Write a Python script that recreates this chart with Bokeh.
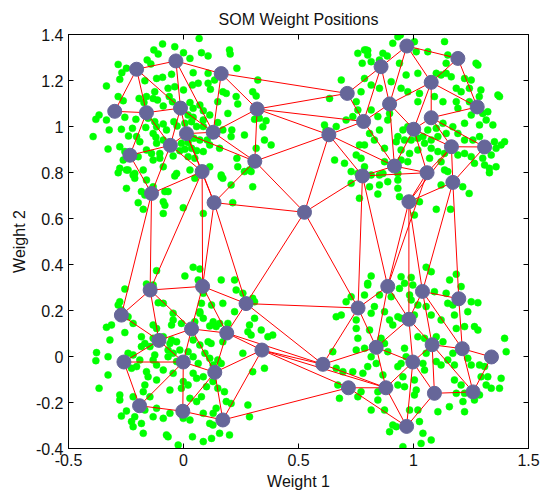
from bokeh.plotting import figure
from bokeh.models import LinearAxis, FixedTicker, CustomJSTickFormatter, ColumnDataSource
from bokeh.embed import file_html
from bokeh.resources import INLINE
import math

# SOM neuron weights, 8x8 hexagonal grid, listed row by row (Weight 1, Weight 2)
w_rows = [
    [(-0.299, 1.066), (-0.204, 1.249), (-0.033, 1.285), (0.164, 1.230), (0.712, 1.144), (0.859, 1.260), (0.971, 1.350), (1.193, 1.296)],
    [(-0.161, 1.060), (-0.013, 1.080), (0.129, 0.975), (0.320, 1.076), (0.783, 1.022), (0.896, 1.098), (1.077, 1.192), (1.277, 1.085)],
    [(-0.233, 0.875), (-0.057, 0.918), (0.013, 0.969), (0.310, 0.849), (0.632, 0.964), (0.917, 0.828), (1.001, 0.988), (1.077, 1.038)],
    [(-0.139, 0.709), (0.081, 0.804), (0.133, 0.669), (0.526, 0.627), (0.778, 0.785), (1.059, 0.799), (1.165, 0.912), (1.309, 0.911)],
    [(-0.270, 0.180), (-0.145, 0.289), (0.083, 0.305), (0.272, 0.230), (0.759, 0.211), (0.888, 0.305), (0.980, 0.673), (1.171, 0.757)],
    [(-0.107, 0.070), (0.035, 0.120), (0.188, 0.102), (0.606, -0.034), (0.838, 0.040), (0.980, 0.162), (1.039, 0.283), (1.197, 0.251)],
    [(-0.259, -0.024), (-0.001, -0.024), (0.136, -0.069), (0.341, 0.028), (0.880, -0.136), (0.997, -0.024), (1.081, 0.051), (1.212, 0.034)],
    [(-0.191, -0.214), (-0.003, -0.238), (0.171, -0.276), (0.717, -0.136), (0.970, -0.304), (1.091, -0.160), (1.259, -0.154), (1.339, -0.002)],
]

# input vectors, grouped by region
pts_top_left = [
    (0.068,1.383),(-0.091,1.359),(-0.129,1.333),(-0.110,1.315),(-0.038,1.347),(0.000,1.321),(0.028,1.296),(0.078,1.321),(0.107,1.307),
    (-0.158,1.289),(-0.142,1.272),(-0.284,1.270),(-0.248,1.253),(-0.268,1.234),(-0.277,1.205),(-0.335,1.176),(-0.168,1.199),(-0.117,1.209),
    (-0.091,1.214),(-0.052,1.227),(-0.067,1.166),(-0.038,1.173),(0.000,1.159),(0.042,1.234),(0.107,1.231),(0.039,1.180),(0.064,1.188),
    (0.107,1.188),(0.117,1.162),(-0.125,1.151),(-0.132,1.122),(-0.113,1.115),(-0.161,1.130),(-0.284,1.130),(-0.262,1.112),(-0.193,1.122),
    (-0.172,1.104),(-0.062,1.130),(-0.048,1.108),(-0.088,1.089),(0.028,1.104),(0.042,1.079),(0.071,1.093),(0.086,1.069),(0.114,1.050),
    (0.020,1.050),(0.042,1.040),(0.086,1.028),(-0.367,1.050),(-0.381,1.031),(-0.393,0.956),(-0.335,1.028),(-0.323,0.985),(-0.270,0.988),
    (-0.255,1.040),(-0.207,1.031),(-0.222,0.992),(-0.154,1.036),(-0.125,1.021),(-0.164,0.996),(-0.117,0.999),(-0.088,1.011),(-0.074,0.985),
    (-0.042,1.021),(-0.028,1.002),(0.006,1.014),(0.035,1.021),(0.057,1.000),(0.086,1.000),(-0.132,0.970),(-0.120,0.953),(-0.204,0.956),
    (-0.239,0.959),(-0.190,0.934),(-0.117,0.927),(-0.088,0.941),(-0.009,0.927),(0.020,0.930),(0.045,0.949),(0.071,0.941),(0.103,0.941),
    (0.114,0.920),(-0.328,0.902),(-0.277,0.912),(-0.255,0.891),(-0.161,0.898),(-0.139,0.883),(-0.103,0.883),(-0.016,0.895),(0.006,0.901),
    (0.035,0.905),(0.057,0.895),(0.086,0.891),(-0.262,0.854),(-0.197,0.869),(-0.132,0.854),(-0.103,0.862),(-0.045,0.872),(0.020,0.869),
    (0.049,0.862),(-0.277,0.818),(-0.248,0.811),(-0.212,0.796),(-0.175,0.811),(-0.088,0.825),(-0.030,0.796),(0.028,0.811),(0.114,0.825),
    (0.200,1.333),(0.203,1.315),(0.232,1.253),(0.323,1.202),(0.135,1.202),(0.171,1.151),(0.186,1.144),(0.149,1.108),(0.229,1.130),
    (0.236,1.098),(0.301,1.151),(0.316,1.133),(0.193,1.057),(0.149,1.017),(0.171,0.985),(0.210,0.985),(0.207,0.956),(0.265,0.963),
    (0.309,1.031),(0.330,1.036),(0.359,1.025),(0.345,0.999),(0.352,0.941),(0.381,0.920),(0.316,0.905),(0.157,0.905),(0.232,0.862),
    (0.236,0.825),(0.287,0.811),(0.164,0.789),
    (-0.284,0.799),(-0.241,0.811),(-0.219,0.789),(-0.212,0.775),(-0.161,0.767),(-0.248,0.731),(-0.183,0.717),(-0.168,0.702),(-0.132,0.738),
    (-0.081,0.717),(-0.067,0.717),(-0.088,0.673),(-0.081,0.658),(-0.088,0.622),(-0.197,0.669),(-0.175,0.640),(-0.038,0.785),(-0.001,0.647),
    (0.049,0.775),(0.086,0.622),(0.164,0.782),(0.171,0.775),(0.207,0.746),(0.301,0.738),(0.265,0.804),(0.294,0.804),(0.214,0.669),
]

pts_top_right = [
    (0.758,1.318),(0.794,1.333),(0.801,1.311),(0.777,1.275),(0.686,1.202),(0.772,1.151),(0.751,1.108),(0.758,1.072),(0.736,1.043),
    (0.707,1.028),(0.613,1.007),(0.620,0.985),(0.664,1.000),(0.635,1.122),(0.765,0.920),(0.751,0.876),(0.772,0.862),(0.787,0.825),
    (0.657,0.854),(0.700,0.840),(0.729,0.804),
    (0.932,1.390),(0.943,1.398),(0.910,1.362),(0.787,1.333),(0.801,1.330),(0.867,1.318),(0.886,1.307),(0.816,1.282),(0.852,1.289),
    (1.004,1.369),(1.012,1.325),(1.062,1.325),(1.135,1.369),(1.142,1.275),(1.149,1.311),(1.272,1.275),(1.280,1.267),(0.939,1.275),
    (0.968,1.224),(1.019,1.231),(1.099,1.231),(1.120,1.224),(1.142,1.231),(1.164,1.216),(1.222,1.209),(1.251,1.202),(1.186,1.166),
    (1.207,1.151),(1.243,1.166),(1.293,1.159),(1.286,1.130),(1.367,1.137),(1.374,1.130),(0.787,1.209),(0.816,1.180),(0.852,1.166),
    (0.903,1.195),(0.946,1.166),(0.975,1.151),(1.026,1.144),(1.019,1.108),(1.091,1.130),(1.128,1.108),(1.186,1.108),(1.193,1.079),
    (1.243,1.108),(1.251,1.050),(1.301,1.057),(1.323,1.064),(1.316,1.028),(1.345,1.007),(1.287,1.007),(1.222,1.014),(1.171,0.999),
    (1.128,1.014),(1.099,0.992),(1.062,0.985),(1.019,0.949),(0.975,0.999),(0.954,0.985),(0.932,0.956),(0.925,0.934),(0.961,0.941),
    (0.990,0.941),(1.041,0.956),(1.048,0.927),(1.077,0.941),(1.106,0.956),(1.142,0.970),(1.193,0.970),(1.222,0.941),(1.258,0.941),
    (1.287,0.956),(1.352,0.934),(1.396,0.934),(1.359,0.905),(1.381,0.920),(1.338,0.876),(1.301,0.862),(1.251,0.869),(1.222,0.883),
    (1.193,0.876),(1.135,0.883),(1.106,0.891),(1.077,0.905),(1.019,0.898),(0.983,0.883),(0.946,0.898),(0.874,0.905),(0.852,0.985),
    (0.809,0.970),(0.830,0.941),(0.787,0.920),(0.888,1.028),(0.896,1.057),(0.845,1.043),(0.816,1.072),(0.874,0.847),(0.946,0.854),
    (0.975,0.847),(1.070,0.862),(1.120,0.847),(1.265,0.840),(1.309,0.833),(1.330,0.818),(1.359,0.825),
    (0.758,0.796),(0.729,0.753),(0.765,0.688),
    (0.816,0.789),(0.852,0.789),(0.867,0.796),(0.932,0.796),(1.135,0.811),(1.149,0.804),(1.330,0.799),(0.809,0.738),(0.852,0.746),
    (0.888,0.760),(0.932,0.767),(0.932,0.731),(0.845,0.706),(0.939,0.695),(1.026,0.673),(1.004,0.615),(1.120,0.746),(1.214,0.738),
    (1.242,0.709),(1.099,0.640),(1.161,0.640),
]

pts_bottom_left = [
    (-0.117,0.373),(-0.161,0.315),(-0.132,0.311),(-0.255,0.293),(-0.277,0.238),(-0.284,0.224),(-0.270,0.202),(-0.110,0.234),(-0.088,0.231),
    (-0.045,0.188),(0.006,0.350),(0.042,0.388),(0.071,0.380),(0.064,0.333),(0.086,0.275),(0.122,0.224),(0.078,0.231),(0.071,0.188),
    (0.164,0.333),(0.222,0.333),(0.229,0.289),(0.171,0.231),(0.258,0.275),(0.301,0.253),(0.309,0.238),
    (-0.313,0.137),(-0.335,0.127),(-0.255,0.104),(-0.320,0.072),(-0.219,0.144),(-0.241,0.173),(-0.132,0.137),(-0.117,0.122),(-0.045,0.159),
    (-0.052,0.137),(-0.009,0.144),(0.049,0.151),(0.071,0.195),(0.086,0.166),(0.114,0.133),(0.129,0.151),(0.042,0.072),(0.071,0.050),
    (0.107,0.064),(-0.378,0.017),(-0.381,-0.018),(-0.328,-0.001),(-0.367,-0.138),(-0.328,-0.080),(-0.277,-0.167),(-0.277,-0.189),(-0.270,-0.259),
    (-0.248,-0.237),(-0.226,-0.283),(-0.219,-0.305),(-0.175,-0.334),(-0.074,-0.341),(-0.067,-0.349),(-0.023,-0.385),(0.039,-0.349),(0.086,-0.370),
    (0.122,-0.356),(-0.183,0.086),(-0.168,0.057),(-0.146,0.043),(-0.132,0.079),(-0.088,0.086),(-0.059,0.057),(-0.067,0.028),(-0.052,0.072),
    (-0.030,0.064),(-0.045,0.014),(-0.016,0.028),(0.020,0.021),(0.042,-0.001),(0.064,-0.030),(0.093,0.014),(0.114,-0.008),(0.129,-0.037),
    (-0.226,-0.051),(-0.204,-0.044),(-0.161,-0.066),(-0.154,-0.088),(-0.132,-0.015),(-0.088,-0.059),(-0.045,-0.073),(-0.001,-0.109),(0.020,-0.124),
    (0.042,-0.073),(0.057,-0.095),(0.086,-0.088),(0.100,-0.131),(0.078,-0.175),(0.057,-0.196),(0.028,-0.182),(-0.009,-0.138),(-0.059,-0.146),
    (-0.117,-0.102),(-0.168,-0.124),(-0.175,-0.153),(-0.219,-0.175),(-0.146,-0.175),(-0.117,-0.225),(-0.059,-0.247),(-0.088,-0.269),(-0.132,-0.262),
    (-0.168,-0.233),(-0.212,-0.262),(-0.183,-0.291),(-0.001,-0.269),(0.028,-0.276),(0.086,-0.247),(0.114,-0.291),(0.129,-0.247),(-0.125,0.007),
    (-0.117,-0.037),(-0.190,-0.015),(-0.219,0.007),(-0.183,0.043),(-0.241,0.014),(-0.067,-0.001),(-0.030,-0.022),
    (0.222,0.195),(0.309,0.166),(0.287,0.137),(0.280,0.108),(0.294,0.093),(0.338,0.115),(0.367,0.086),(0.388,0.093),(0.258,0.014),
    (0.301,-0.066),(0.352,-0.051),(0.142,0.130),(0.157,0.144),(0.193,0.144),(0.171,0.064),(0.120,0.057),(0.149,-0.015),(0.164,-0.030),
    (0.178,-0.153),(0.149,-0.138),(0.128,-0.109),(0.186,-0.196),(0.207,-0.204),(0.142,-0.225),(0.280,-0.211),(0.287,-0.262),(0.128,-0.298),
    (0.157,-0.334),(0.200,-0.341),
]

pts_bottom_right = [
    (0.729,0.260),(0.787,0.267),(0.707,0.238),(0.801,0.318),
    (1.055,0.388),(1.077,0.369),(0.816,0.350),(0.801,0.311),(0.852,0.267),(0.903,0.260),(0.946,0.347),(0.990,0.344),(0.961,0.318),
    (0.997,0.311),(0.939,0.296),(0.983,0.267),(0.990,0.246),(1.019,0.224),(1.055,0.217),(0.830,0.217),(0.874,0.195),(1.091,0.282),
    (1.142,0.275),(1.157,0.333),(1.186,0.358),(1.207,0.304),(1.171,0.224),(1.149,0.231),(1.251,0.238),(1.280,0.234),
    (0.649,0.021),(0.664,-0.051),(0.693,-0.066),(0.736,-0.066),(0.780,-0.073),(0.671,-0.124),(0.678,-0.182),(0.758,-0.175),(0.772,-0.153),
    (0.664,0.173),(0.686,0.180),(0.751,0.159),(0.751,0.122),(0.758,0.079),(0.751,0.028),(0.787,0.036),
    (0.816,0.188),(0.932,0.173),(0.946,0.166),(1.004,0.180),(1.077,0.180),(1.120,0.159),(1.178,0.180),(1.236,0.195),(1.186,0.122),
    (1.222,0.130),(1.265,0.130),(1.280,0.115),(1.396,0.079),(1.403,0.021),(0.809,0.115),(0.896,0.159),(0.910,0.137),(0.859,0.079),
    (0.874,0.057),(0.888,0.021),(0.816,-0.001),(0.838,-0.030),(0.801,-0.044),(0.932,-0.044),(0.946,-0.030),(0.968,-0.001),(0.961,0.036),
    (1.019,0.086),(1.048,0.079),(1.099,0.086),(1.128,0.064),(1.055,0.014),(1.041,-0.030),(1.048,-0.059),(1.099,-0.022),(1.120,-0.037),
    (1.149,-0.015),(1.171,0.014),(1.178,-0.037),(1.236,-0.008),(1.251,-0.037),(1.287,-0.037),(1.309,-0.044),(1.294,-0.088),(1.323,-0.088),
    (1.316,-0.124),(1.338,-0.138),(1.374,-0.138),(1.381,-0.095),(1.178,-0.102),(1.207,-0.124),(1.222,-0.160),(1.186,-0.160),(1.215,-0.196),
    (1.265,-0.189),(1.287,-0.167),(1.156,-0.218),(1.222,-0.240),(1.106,-0.240),(1.019,-0.233),(0.983,-0.233),(1.026,-0.283),(0.910,-0.298),
    (0.896,-0.327),(0.925,-0.305),(1.041,-0.334),(1.077,-0.363),(1.033,-0.378),(0.954,-0.392),(0.845,-0.189),(0.816,-0.233),(0.845,-0.153),
    (0.874,-0.233),(0.961,-0.131),(1.004,-0.102),(1.004,-0.167),(1.012,-0.146),(0.932,-0.124),(0.954,-0.088),(0.867,-0.080),
]

x_ticks = [-0.5, 0, 0.5, 1, 1.5]
y_ticks = [-0.4, -0.2, 0, 0.2, 0.4, 0.6, 0.8, 1, 1.2, 1.4]

all_pts = pts_top_left + pts_top_right + pts_bottom_left + pts_bottom_right
data_src = ColumnDataSource(dict(x=[p[0] for p in all_pts], y=[p[1] for p in all_pts]))

# neuron list and hexagonal-topology neighbour links (distance 1 on the grid)
nx, ny, grid = [], [], []
for r, row in enumerate(w_rows):
    for c, (wx, wy) in enumerate(row):
        nx.append(wx); ny.append(wy)
        grid.append((c + 0.5 * (r % 2), r * math.sqrt(3) / 2))
x0, y0, x1, y1 = [], [], [], []
for i in range(len(grid)):
    for j in range(i + 1, len(grid)):
        d = math.hypot(grid[i][0] - grid[j][0], grid[i][1] - grid[j][1])
        if abs(d - 1) < 1e-6:
            x0.append(nx[i]); y0.append(ny[i]); x1.append(nx[j]); y1.append(ny[j])

FONT = "Liberation Sans"
FS = "16px"
p = figure(frame_width=460, frame_height=414, x_range=(-0.5, 1.5), y_range=(-0.4, 1.4),
           output_backend="svg", toolbar_location=None,
           min_border_left=68, min_border_right=17, min_border_top=34, min_border_bottom=46,
           title="SOM Weight Positions", background_fill_color="white", border_fill_color="white")
p.title.align = "center"
p.title.text_font = FONT
p.title.text_font_size = FS
p.title.text_font_style = "normal"
p.title.text_color = "#111111"
p.title.standoff = 14
p.grid.visible = False
p.outline_line_color = "black"
p.outline_line_width = 1

fmt = CustomJSTickFormatter(code="return Number(tick.toFixed(2)).toString();")
for ax, ticks, label in ((p.xaxis[0], x_ticks, "Weight 1"), (p.yaxis[0], y_ticks, "Weight 2")):
    ax.ticker = FixedTicker(ticks=ticks)
    ax.formatter = fmt
    ax.axis_label = label
    ax.axis_label_text_font = FONT
    ax.axis_label_text_font_size = FS
    ax.axis_label_text_font_style = "normal"
    ax.axis_label_text_color = "#111111"
    ax.major_label_text_font = FONT
    ax.major_label_text_font_size = FS
    ax.major_label_text_color = "#111111"
    ax.major_tick_in = 5
    ax.major_tick_out = 0
    ax.minor_tick_in = 0
    ax.minor_tick_out = 0
    ax.major_label_standoff = 5
    ax.axis_line_color = "black"
    ax.major_tick_line_color = "black"
p.xaxis[0].axis_label_standoff = 4
p.yaxis[0].axis_label_standoff = 5

# box ticks on the top and right edges (no labels drawn)
for loc, ticks in (("above", x_ticks), ("right", y_ticks)):
    a = LinearAxis(ticker=FixedTicker(ticks=ticks), major_label_text_font_size="1px",
                   major_label_text_color=None,
                   major_tick_in=5, major_tick_out=0, minor_tick_in=0, minor_tick_out=0,
                   major_label_standoff=0, axis_line_color="black", major_tick_line_color="black")
    p.add_layout(a, loc)

p.scatter("x", "y", source=data_src, size=7, fill_color="#00FF00", line_color="#00FF00", line_width=0.5)
p.segment(x0=x0, y0=y0, x1=x1, y1=y1, line_color="#FF0000", line_width=1)
p.scatter(nx, ny, size=14, fill_color="#666699", line_color="#666699")

open("out.html", "w").write(file_html(p, INLINE))
